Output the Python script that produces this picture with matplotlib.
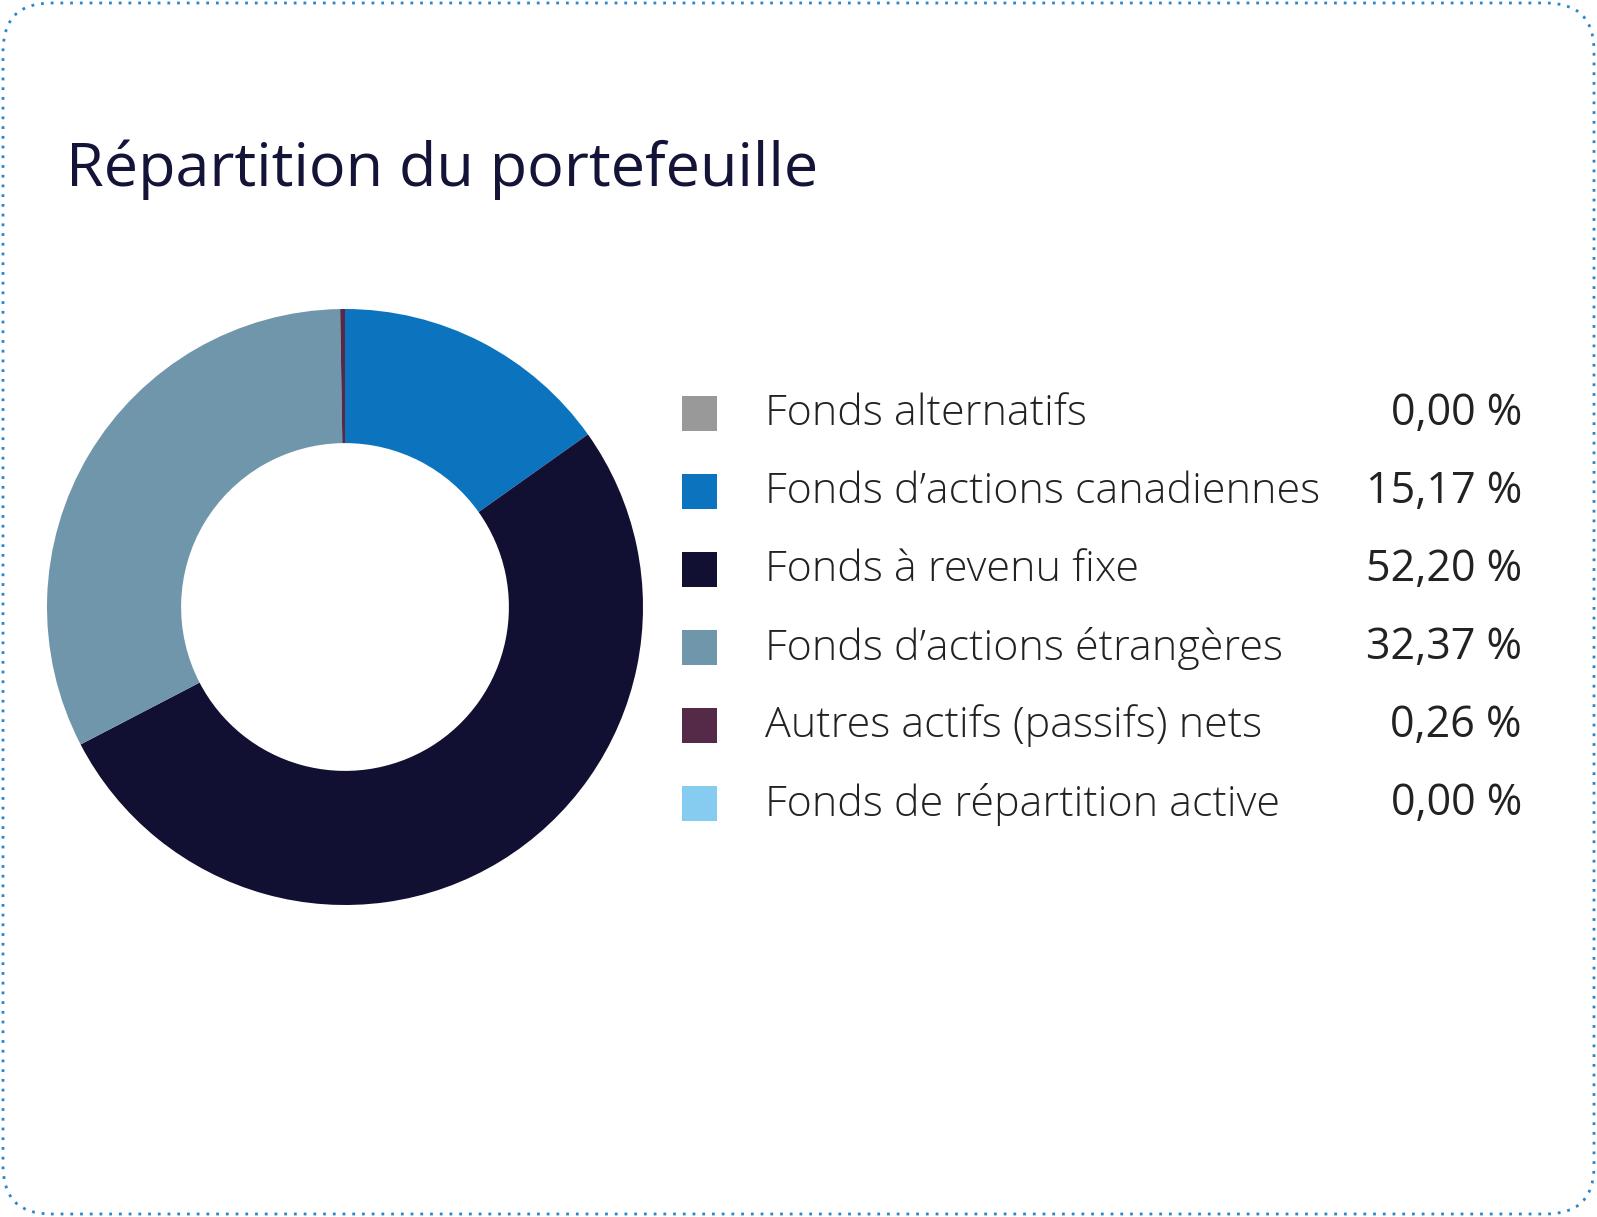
import matplotlib
matplotlib.use("Agg")
import matplotlib.pyplot as plt
from matplotlib.patches import FancyBboxPatch, Rectangle

labels = ["Fonds alternatifs", "Fonds d’actions canadiennes", "Fonds à revenu fixe",
          "Fonds d’actions étrangères", "Autres actifs (passifs) nets", "Fonds de répartition active"]
values = [0.00, 15.17, 52.20, 32.37, 0.26, 0.00]
colors = ["#999999", "#0c74bf", "#121032", "#7096ab", "#542a48", "#86ccf0"]
value_text = ["0,00 %", "15,17 %", "52,20 %", "32,37 %", "0,26 %", "0,00 %"]

W, H = 1597, 1217
fig = plt.figure(figsize=(W/100, H/100), dpi=100)
fig.patch.set_facecolor("white")

border = FancyBboxPatch((3/W, 3/H), 1-6/W, 1-6/H, boxstyle="round,pad=0,rounding_size=0.03",
                        transform=fig.transFigure, fill=False, edgecolor="#2a86c8",
                        linestyle=(0, (1, 2.5)), linewidth=2, mutation_aspect=W/H)
fig.patches.append(border)

fig.text(66/W, 1-170/H, "Répartition du portefeuille", fontsize=44, color="#141438",
         family="Open Sans", va="center", ha="left")

cx, cy, r = 345, 607, 298
ax = fig.add_axes([(cx-r)/W, 1-(cy+r)/H, 2*r/W, 2*r/H])
ax.pie(values, colors=colors, startangle=90, counterclock=False,
       wedgeprops=dict(width=0.45, edgecolor="none"))
ax.set_xlim(-1, 1)
ax.set_ylim(-1, 1)
ax.set_aspect("equal")
ax.axis("off")

rows = [414, 492, 570, 648, 726, 804]
for lab, c, vt, y in zip(labels, colors, value_text, rows):
    fig.patches.append(Rectangle((682/W, 1-(y+17)/H), 35/W, 35/H, transform=fig.transFigure,
                                 facecolor=c, edgecolor="none"))
    fig.text(765/W, 1-y/H, lab, fontsize=31, color="#222222", family="Open Sans",
             fontweight="light", va="center", ha="left")
    fig.text(1522/W, 1-y/H, vt, fontsize=31, color="#222222", family="Open Sans",
             va="center", ha="right")

fig.savefig("out.png", dpi=100)
